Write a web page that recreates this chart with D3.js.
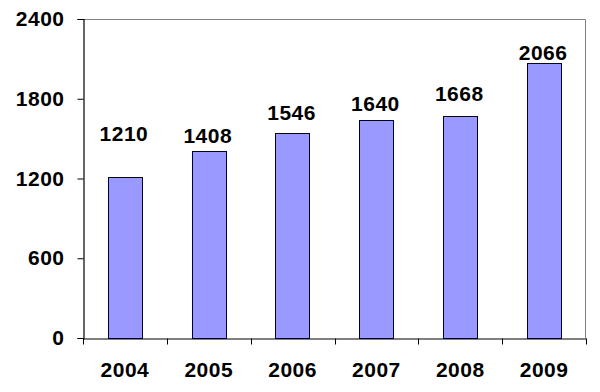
<!DOCTYPE html>
<html>
<head>
<meta charset="utf-8">
<script src="https://cdn.jsdelivr.net/npm/d3@7"></script>
<style>
  html, body { margin: 0; padding: 0; background: #fff; }
  svg text { font-family: "Liberation Sans", Arial, sans-serif; font-weight: bold; fill: #000; }
</style>
</head>
<body>
<svg id="chart" width="600" height="392"></svg>
<script>
// --- data
const years = ['2004', '2005', '2006', '2007', '2008', '2009'];
const counts = [1210, 1408, 1546, 1640, 1668, 2066];
const yTicks = [0, 600, 1200, 1800, 2400];

// label lift above each bar top (px), labels were placed by hand in the source
const LABEL_RAISE = [36, 8, 13, 9, 15, 3];

const WIDTH = 600;
const HEIGHT = 392;
const FONT_SIZE = '21px';
const margin = { top: 19, right: 14, bottom: 54, left: 83 };

const svg = d3.select('#chart');

const x = d3.scaleBand()
  .domain(years)
  .range([margin.left, WIDTH - margin.right])
  .paddingInner(0.59)
  .paddingOuter(0.295);

const y = d3.scaleLinear()
  .domain([0, 2400])
  .range([HEIGHT - margin.bottom, margin.top]);

// plot area border (grey top/right)
svg.append('path')
  .attr('fill', 'none')
  .attr('stroke', '#808080')
  .attr('stroke-width', 1)
  .attr('d', `M${margin.left},${margin.top + 0.5}H${WIDTH - margin.right - 0.5}V${HEIGHT - margin.bottom}`);

// bars
svg.append('g').selectAll('rect')
  .data(counts)
  .enter()
  .append('rect')
  .attr('x', (d, i) => Math.round(x(years[i])) + 0.5)
  .attr('y', d => Math.round(y(d)) + 0.5)
  .attr('width', Math.round(x.bandwidth()))
  .attr('height', d => Math.round(y(0) - y(d)))
  .attr('fill', '#9999ff')
  .attr('stroke', '#000033')
  .attr('stroke-width', 1);

// value labels
svg.append('g').selectAll('text')
  .data(counts)
  .enter()
  .append('text')
  .attr('x', (d, i) => x(years[i]) + x.bandwidth() / 2 - 1)
  .attr('y', (d, i) => y(d) - LABEL_RAISE[i])
  .attr('text-anchor', 'middle')
  .style('font-size', FONT_SIZE)
  .style('letter-spacing', '0.5px')
  .text(d => d);

// y axis
const yAxis = svg.append('g')
  .attr('transform', `translate(${margin.left + 0.5},0)`)
  .call(d3.axisLeft(y).tickValues(yTicks).tickFormat(d3.format('d'))
    .tickSizeOuter(0).tickSize(6).tickPadding(13));

// x axis, ticks between categories
const xAxis = svg.append('g')
  .attr('transform', `translate(0,${HEIGHT - margin.bottom + 0.5})`)
  .call(d3.axisBottom(x).tickSize(0).tickSizeOuter(0).tickPadding(24));

const step = x.step();
const bounds = d3.range(years.length + 1).map(i => margin.left + i * step);
xAxis.selectAll('.sep')
  .data(bounds)
  .enter()
  .append('line')
  .attr('class', 'sep')
  .attr('x1', d => Math.round(d) + 0.5)
  .attr('x2', d => Math.round(d) + 0.5)
  .attr('y1', 0)
  .attr('y2', 6)
  .attr('stroke', '#000');

[yAxis, xAxis].forEach(ax => {
  ax.select('.domain').attr('stroke', '#000').attr('stroke-width', 1.2);
  ax.selectAll('.tick line').attr('stroke', '#000');
  ax.selectAll('text')
    .style('font-size', FONT_SIZE)
    .style('letter-spacing', '0.5px')
    .style('font-family', '"Liberation Sans", Arial, sans-serif')
    .style('font-weight', 'bold')
    .attr('fill', '#000');
});
</script>
</body>
</html>
